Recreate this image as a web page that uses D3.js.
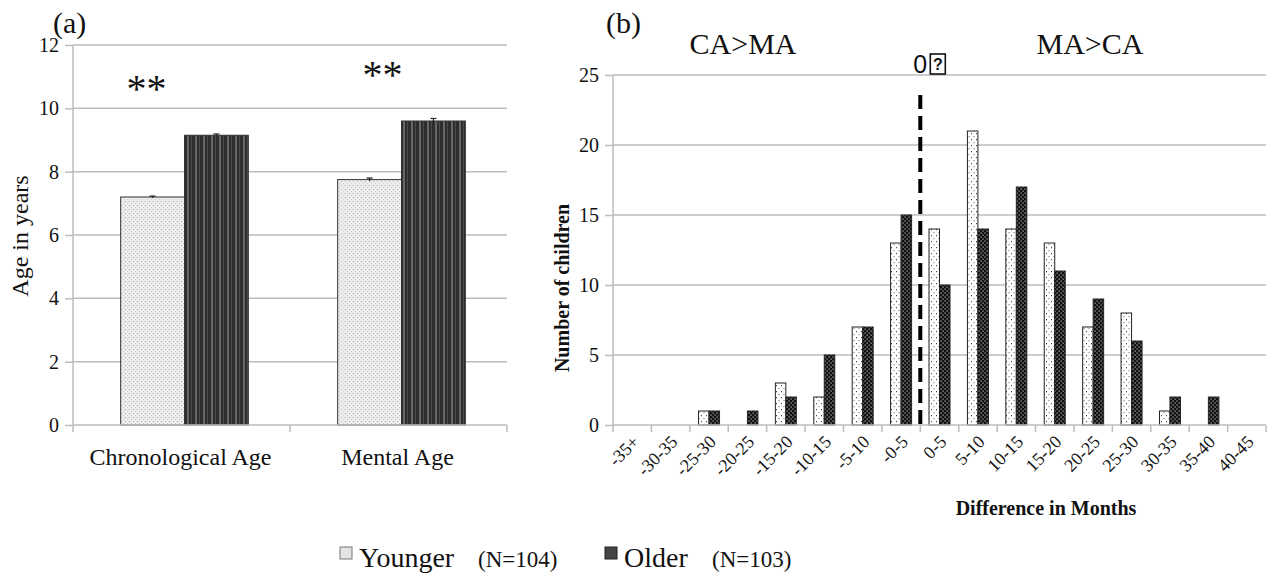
<!DOCTYPE html>
<html>
<head>
<meta charset="utf-8">
<script src="https://d3js.org/d3.v7.min.js"></script>
<style>
  body { margin: 0; background: #fff; }
  svg text { font-family: 'Liberation Serif', 'DejaVu Serif', serif; fill: #111; }
</style>
</head>
<body>
<svg id="chart" width="1268" height="579"></svg>
<script>
// ---- data, panel (a) ----
const ageCats = ['Chronological Age', 'Mental Age']
const groups = ['Younger', 'Older']
const ageYounger = [7.2, 7.75]
const ageOlder = [9.15, 9.6]
const errYounger = [0.03, 0.05]
const errOlder = [0.04, 0.08]
const ageTicks = [0, 2, 4, 6, 8, 10, 12]

// ---- data, panel (b) ----
const diffCats = ['-35+', '-30-35', '-25-30', '-20-25', '-15-20', '-10-15', '-5-10', '-0-5',
  '0-5', '5-10', '10-15', '15-20', '20-25', '25-30', '30-35', '35-40', '40-45']
const countYounger = [0, 0, 1, 0, 3, 2, 7, 13, 14, 21, 14, 13, 7, 8, 1, 0, 0]
const countOlder = [0, 0, 1, 1, 2, 5, 7, 15, 10, 14, 17, 11, 9, 6, 2, 2, 0]
const countTicks = [0, 5, 10, 15, 20, 25]

const legendItems = [
  {name: 'Younger', n: '(N=104)'},
  {name: 'Older', n: '(N=103)'}
]

const svg = d3.select('#chart')
const defs = svg.append('defs')

// textures
let p = defs.append('pattern').attr('id', 'aYoung').attr('patternUnits', 'userSpaceOnUse')
  .attr('width', 4).attr('height', 4)
p.append('rect').attr('width', 4).attr('height', 4).attr('fill', '#ececec')
p.append('rect').attr('x', 1).attr('y', 1).attr('width', 1).attr('height', 1).attr('fill', '#b8b8b8')
p.append('rect').attr('x', 3).attr('y', 3).attr('width', 1).attr('height', 1).attr('fill', '#cfcfcf')

p = defs.append('pattern').attr('id', 'aOld').attr('patternUnits', 'userSpaceOnUse')
  .attr('width', 8).attr('height', 4)
p.append('rect').attr('width', 8).attr('height', 4).attr('fill', '#2e2e2e')
p.append('rect').attr('x', 3).attr('width', 2).attr('height', 4).attr('fill', '#666')
p.append('rect').attr('x', 7).attr('width', 1).attr('height', 4).attr('fill', '#4c4c4c')

p = defs.append('pattern').attr('id', 'bYoung').attr('patternUnits', 'userSpaceOnUse')
  .attr('width', 5).attr('height', 6)
p.append('rect').attr('width', 5).attr('height', 6).attr('fill', '#fff')
p.append('rect').attr('x', 1).attr('y', 1).attr('width', 1).attr('height', 1.2).attr('fill', '#444')
p.append('rect').attr('x', 3.5).attr('y', 4).attr('width', 1).attr('height', 1.2).attr('fill', '#777')

p = defs.append('pattern').attr('id', 'bOld').attr('patternUnits', 'userSpaceOnUse')
  .attr('width', 4).attr('height', 4)
p.append('rect').attr('width', 4).attr('height', 4).attr('fill', '#111')
p.append('rect').attr('x', 0.5).attr('y', 0.5).attr('width', 1.2).attr('height', 1.2).attr('fill', '#bbb')
p.append('rect').attr('x', 2.5).attr('y', 2.5).attr('width', 1.2).attr('height', 1.2).attr('fill', '#bbb')

const gridColor = '#bdbdbd'

// ================= panel (a) =================
const ya = d3.scaleLinear().domain([0, 12]).range([425, 45])
const xa0 = d3.scaleBand().domain(ageCats).range([73, 507]).padding(0)
const xa1 = d3.scaleBand().domain(groups).range([0, xa0.bandwidth()]).paddingOuter(0.7).paddingInner(0)

const ga = svg.append('g')
ga.selectAll('line.grid').data(ageTicks.slice(1)).enter().append('line')
  .attr('x1', 73).attr('x2', 507).attr('y1', d => ya(d)).attr('y2', d => ya(d))
  .attr('stroke', gridColor).attr('stroke-width', 1.5)

ga.append('g').attr('transform', 'translate(73,0)')
  .call(d3.axisLeft(ya).tickValues(ageTicks).tickSize(8).tickPadding(6))
  .call(g => g.select('.domain').remove())
  .call(g => g.selectAll('.tick line').attr('stroke', gridColor).attr('stroke-width', 1.5))
  .call(g => g.selectAll('.tick text').attr('font-size', 20).attr('fill', '#222'))
ga.append('line').attr('x1', 73).attr('x2', 73).attr('y1', 45).attr('y2', 425)
  .attr('stroke', gridColor).attr('stroke-width', 1.5)

const aRows = []
ageCats.forEach((c, i) => {
  aRows.push({cat: c, grp: 'Younger', v: ageYounger[i], e: errYounger[i], fill: 'url(#aYoung)'})
  aRows.push({cat: c, grp: 'Older', v: ageOlder[i], e: errOlder[i], fill: 'url(#aOld)'})
})
const barA = d => xa0(d.cat) + xa1(d.grp) + 3
ga.selectAll('rect.bar').data(aRows).enter().append('rect')
  .attr('x', barA)
  .attr('y', d => ya(d.v))
  .attr('width', xa1.bandwidth())
  .attr('height', d => ya(0) - ya(d.v))
  .attr('fill', d => d.fill)
  .attr('stroke', '#333').attr('stroke-width', 1)

// error bars
const eb = ga.selectAll('g.err').data(aRows).enter().append('g')
  .attr('stroke', '#222').attr('stroke-width', 1.2)
eb.append('line')
  .attr('x1', d => barA(d) + xa1.bandwidth() / 2)
  .attr('x2', d => barA(d) + xa1.bandwidth() / 2)
  .attr('y1', d => ya(d.v + d.e)).attr('y2', d => ya(d.v - d.e))
eb.append('line')
  .attr('x1', d => barA(d) + xa1.bandwidth() / 2 - 3)
  .attr('x2', d => barA(d) + xa1.bandwidth() / 2 + 3)
  .attr('y1', d => ya(d.v + d.e)).attr('y2', d => ya(d.v + d.e))

// x axis
ga.append('line').attr('x1', 73).attr('x2', 507).attr('y1', 425).attr('y2', 425)
  .attr('stroke', gridColor).attr('stroke-width', 1.5)
ga.selectAll('line.xt').data([73, xa0('Mental Age'), 507]).enter().append('line')
  .attr('x1', d => d).attr('x2', d => d).attr('y1', 425).attr('y2', 432)
  .attr('stroke', gridColor).attr('stroke-width', 1.5)
ga.selectAll('text.xl').data(ageCats).enter().append('text')
  .attr('x', d => xa0(d) + xa0.bandwidth() / 2 - 1).attr('y', 465)
  .attr('text-anchor', 'middle').attr('font-size', 24).text(d => d)

ga.append('text').attr('transform', 'translate(28,236) rotate(-90)')
  .attr('text-anchor', 'middle').attr('font-size', 24).text('Age in years')
ga.append('text').attr('x', 53).attr('y', 33).attr('font-size', 30).text('(a)')

// significance stars
const starShift = [-3, 16]
ga.selectAll('text.sig').data(ageCats).enter().append('text')
  .attr('x', (d, i) => xa0(d) + xa1('Younger') + xa1.bandwidth() / 2 + starShift[i])
  .attr('y', (d, i) => ya(Math.max(ageYounger[i], ageOlder[i])) - 33)
  .attr('text-anchor', 'middle').attr('font-size', 40).text('**')

// ================= panel (b) =================
const yb = d3.scaleLinear().domain([0, 25]).range([425, 75])
const xb0 = d3.scaleBand().domain(diffCats).range([613, 1266]).padding(0)
const xb1 = d3.scaleBand().domain(groups).range([0, xb0.bandwidth()]).paddingOuter(0.83).paddingInner(0)

const gb = svg.append('g')
gb.selectAll('line.grid').data(countTicks.slice(1)).enter().append('line')
  .attr('x1', 613).attr('x2', 1266).attr('y1', d => yb(d)).attr('y2', d => yb(d))
  .attr('stroke', gridColor).attr('stroke-width', 1.5)
gb.append('g').attr('transform', 'translate(613,0)')
  .call(d3.axisLeft(yb).tickValues(countTicks).tickSize(8).tickPadding(6))
  .call(g => g.select('.domain').remove())
  .call(g => g.selectAll('.tick line').attr('stroke', gridColor).attr('stroke-width', 1.5))
  .call(g => g.selectAll('.tick text').attr('font-size', 20).attr('fill', '#222'))
gb.append('line').attr('x1', 613).attr('x2', 613).attr('y1', 75).attr('y2', 425)
  .attr('stroke', gridColor).attr('stroke-width', 1.5)

const bRows = []
diffCats.forEach((c, i) => {
  if (countYounger[i] > 0) bRows.push({cat: c, grp: 'Younger', v: countYounger[i], fill: 'url(#bYoung)'})
  if (countOlder[i] > 0) bRows.push({cat: c, grp: 'Older', v: countOlder[i], fill: 'url(#bOld)'})
})
gb.selectAll('rect.bar').data(bRows).enter().append('rect')
  .attr('x', d => xb0(d.cat) + xb1(d.grp))
  .attr('y', d => yb(d.v))
  .attr('width', xb1.bandwidth())
  .attr('height', d => yb(0) - yb(d.v))
  .attr('fill', d => d.fill)
  .attr('stroke', '#222').attr('stroke-width', 1)

// x axis
gb.append('line').attr('x1', 613).attr('x2', 1266).attr('y1', 425).attr('y2', 425)
  .attr('stroke', gridColor).attr('stroke-width', 1.5)
gb.selectAll('line.xt').data(diffCats.map(c => xb0(c)).concat([1266])).enter().append('line')
  .attr('x1', d => d).attr('x2', d => d).attr('y1', 425).attr('y2', 432)
  .attr('stroke', gridColor).attr('stroke-width', 1.5)
gb.selectAll('text.xl').data(diffCats).enter().append('text')
  .attr('transform', d => `translate(${xb0(d) + xb0.bandwidth() / 2 + 8},443) rotate(-45)`)
  .attr('text-anchor', 'end').attr('font-size', 18).text(d => d)

gb.append('text').attr('x', 1046).attr('y', 515).attr('text-anchor', 'middle')
  .attr('font-size', 20).attr('font-weight', 'bold').text('Difference in Months')
gb.append('text').attr('transform', 'translate(569,288) rotate(-90)')
  .attr('text-anchor', 'middle').attr('font-size', 20).attr('font-weight', 'bold').text('Number of children')

// zero line
const zx = xb0('0-5')
gb.append('line').attr('x1', zx).attr('x2', zx).attr('y1', yb(25) + 20).attr('y2', 431)
  .attr('stroke', '#000').attr('stroke-width', 4).attr('stroke-dasharray', '14,7')
gb.append('text').attr('x', zx - 7).attr('y', 73)
  .style('font-family', "'Liberation Sans', Arial, sans-serif")
  .attr('font-size', 25).text('0')
gb.append('rect').attr('x', zx + 10).attr('y', 54).attr('width', 15).attr('height', 20)
  .attr('fill', 'none').attr('stroke', '#111').attr('stroke-width', 1.6)
gb.append('text').attr('x', zx + 17.5).attr('y', 70).attr('text-anchor', 'middle')
  .style('font-family', "'Liberation Sans', Arial, sans-serif")
  .attr('font-size', 16).attr('font-weight', 'bold').text('?')

gb.append('text').attr('x', 743).attr('y', 54).attr('text-anchor', 'middle').attr('font-size', 30).text('CA>MA')
gb.append('text').attr('x', 1090).attr('y', 54).attr('text-anchor', 'middle').attr('font-size', 30).text('MA>CA')
gb.append('text').attr('x', 606).attr('y', 33).attr('font-size', 30).text('(b)')

// ================= legend =================
const leg = svg.append('g')
const legX = [340, 605]
const legFill = ['#e4e4e4', '#444']
legendItems.forEach((d, i) => {
  leg.append('rect').attr('x', legX[i]).attr('y', 547).attr('width', 12).attr('height', 12)
    .attr('fill', legFill[i]).attr('stroke', i === 0 ? '#777' : '#222').attr('stroke-width', 1)
  leg.append('text').attr('x', legX[i] + 19).attr('y', 567).attr('font-size', 28).text(d.name)
  leg.append('text').attr('x', legX[i] + (i === 0 ? 138 : 107)).attr('y', 567).attr('font-size', 23).text(d.n)
})
</script>
</body>
</html>
